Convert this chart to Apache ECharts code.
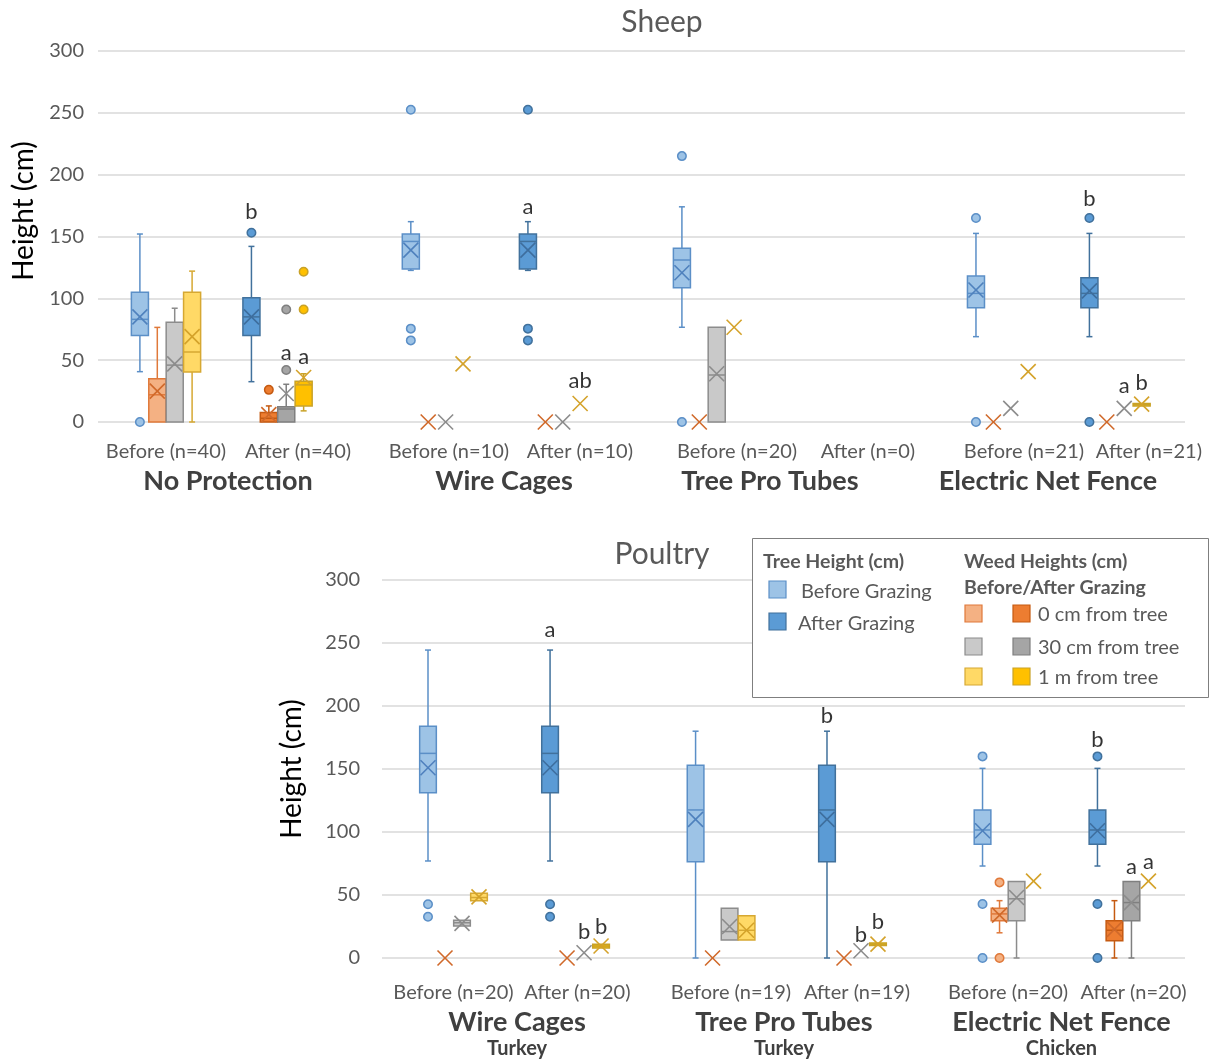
<!DOCTYPE html>
<html><head><meta charset="utf-8">
<script src="https://cdn.jsdelivr.net/npm/echarts@6/dist/echarts.min.js"></script>
<style>html,body{margin:0;padding:0;background:#fff}#c{width:1211px;height:1064px}</style>
</head><body><div id="c"></div><script>
// ---------------- DATA ----------------
const yTicks = [0, 50, 100, 150, 200, 250, 300];
const sheepGroups = ['No Protection', 'Wire Cages', 'Tree Pro Tubes', 'Electric Net Fence'];
const sheepBeforeLabels = ['Before (n=40)', 'Before (n=10)', 'Before (n=20)', 'Before (n=21)'];
const sheepAfterLabels = ['After (n=40)', 'After (n=10)', 'After (n=0)', 'After (n=21)'];
const poultryGroups = ['Wire Cages', 'Tree Pro Tubes', 'Electric Net Fence'];
const poultryAnimals = ['Turkey', 'Turkey', 'Chicken'];
const poultryBeforeLabels = ['Before (n=20)', 'Before (n=19)', 'Before (n=20)'];
const poultryAfterLabels = ['After (n=20)', 'After (n=19)', 'After (n=20)'];
const seriesNames = ['Tree height', '0 cm from tree', '30 cm from tree', '1 m from tree'];

// box stats: [min, q1, median, q3, max, mean]  (null = no data)
const sheepTreeBefore = [[40.7, 70, 83, 105, 152, 85], [122.6, 123.7, 146, 152, 162, 139], [76.6, 108.6, 131, 140.4, 174, 120.7], [69, 92.4, 104, 118, 152.5, 106.7]];
const sheepTreeAfter  = [[32.6, 70, 85, 100.5, 142, 85], [122.6, 123.7, 146, 152, 162, 139], null, [69, 92.4, 104, 116.7, 152.5, 106]];
const sheepW0Before   = [[0, 0, 22, 35, 76.5, 25], [0, 0, 0, 0, 0, 0], [0, 0, 0, 0, 0, 0], [0, 0, 0, 0, 0, 0]];
const sheepW0After    = [[0, 0, 3, 7.6, 13, 6], [0, 0, 0, 0, 0, 0], null, [0, 0, 0, 0, 0, 0]];
const sheepW30Before  = [[0, 0, 46, 80.6, 92, 47], [0, 0, 0, 0, 0, 0], [0, 0, 38, 76.6, 76.6, 39], [11, 11, 11, 11, 11, 11]];
const sheepW30After   = [[0, 0, 10.5, 12.4, 30.5, 23], [0, 0, 0, 0, 0, 0], null, [11, 11, 11, 11, 11, 11]];
const sheepW1Before   = [[0, 40.4, 56.6, 105, 122, 69], [47, 47, 47, 47, 47, 47], [76.6, 76.6, 76.6, 76.6, 76.6, 76.6], [40.7, 40.7, 40.7, 40.7, 40.7, 40.7]];
const sheepW1After    = [[9, 13, 30, 33, 39, 36], [15, 15, 15, 15, 15, 15], null, [13, 13, 14, 15, 15, 14.5]];
// outliers
const sheepTreeBeforeOut = [[0], [252.5, 75.5, 66], [215, 0], [165, 0]];
const sheepTreeAfterOut  = [[153], [252.5, 75.5, 66], [], [165, 0]];
const sheepW0BeforeOut = [[], [], [], []];
const sheepW0AfterOut  = [[26], [], [], []];
const sheepW30BeforeOut = [[], [], [], []];
const sheepW30AfterOut  = [[42, 91], [], [], []];
const sheepW1BeforeOut = [[], [], [], []];
const sheepW1AfterOut  = [[91, 121.5], [], [], []];
// significance letters: [group, phase(0 before/1 after), series, text, height]
const sheepLetters = [[0, 1, 0, 'b', 170], [0, 1, 2, 'a', 56], [0, 1, 3, 'a', 52.5], [1, 1, 0, 'a', 174], [1, 1, 3, 'ab', 33], [3, 1, 0, 'b', 180], [3, 1, 2, 'a', 29], [3, 1, 3, 'b', 31.5]];

const poultryTreeBefore = [[77, 131.2, 162.4, 184, 244.4, 151], [0, 76.4, 117.5, 153, 180, 110], [73, 90.2, 101.6, 117.5, 150.5, 101]];
const poultryTreeAfter  = [[77, 131.2, 162.4, 184, 244.4, 151], [0, 76.4, 117.5, 153, 180, 110], [73, 90.2, 101.6, 117.5, 150.5, 101]];
const poultryW0Before   = [[0, 0, 0, 0, 0, 0], [0, 0, 0, 0, 0, 0], [20, 29.6, 35, 39.4, 45.5, 34]];
const poultryW0After    = [[0, 0, 0, 0, 0, 0], [0, 0, 0, 0, 0, 0], [0, 13.7, 22, 29.6, 45.5, 22.7]];
const poultryW30Before  = [[25.4, 25.4, 28, 30, 30, 27.5], [14.3, 14.3, 21, 39.4, 39.4, 25], [0, 29.6, 47, 60.8, 60.8, 48]];
const poultryW30After   = [[4.2, 4.2, 4.2, 4.2, 4.2, 4.2], [5.8, 5.8, 5.8, 5.8, 5.8, 5.8], [0, 29.6, 44, 60.8, 60.8, 44]];
const poultryW1Before   = [[45.5, 45.5, 48, 51.3, 51.3, 48.5], [14.3, 14.3, 22, 33.6, 33.6, 22], [61, 61, 61, 61, 61, 61]];
const poultryW1After    = [[8, 8, 9.5, 11, 11, 9.5], [10, 10, 11, 12, 12, 11], [61, 61, 61, 61, 61, 61]];
const poultryTreeBeforeOut = [[42.6, 32.8], [], [160, 42.9, 0]];
const poultryTreeAfterOut  = [[42.6, 32.8], [], [160, 42.9, 0]];
const poultryW0BeforeOut = [[], [], [60, 0]];
const poultryW0AfterOut  = [[], [], []];
const poultryW30BeforeOut = [[], [], []];
const poultryW30AfterOut  = [[], [], []];
const poultryW1BeforeOut = [[], [], []];
const poultryW1AfterOut  = [[], [], []];
const poultryLetters = [[0, 1, 0, 'a', 260], [0, 1, 2, 'b', 20.6], [0, 1, 3, 'b', 24.6], [1, 1, 0, 'b', 192], [1, 1, 2, 'b', 18], [1, 1, 3, 'b', 28.6], [2, 1, 0, 'b', 173], [2, 1, 2, 'a', 72], [2, 1, 3, 'a', 76]];

// ---------------- STYLE / LAYOUT ----------------
const FONT = 'Lato';
const PAL = [
  [{fill: '#9DC3E6', stroke: '#5B8FC7', mark: '#4F81BD'}, {fill: '#5B9BD5', stroke: '#41719C', mark: '#3E6E9E'}],
  [{fill: '#F4B183', stroke: '#E0793A', mark: '#D0692A'}, {fill: '#ED7D31', stroke: '#C55A11', mark: '#D0692A'}],
  [{fill: '#C9C9C9', stroke: '#8C8C8C', mark: '#8C8C8C'}, {fill: '#A5A5A5', stroke: '#7F7F7F', mark: '#8C8C8C'}],
  [{fill: '#FFD966', stroke: '#D6A832', mark: '#D4A22A'}, {fill: '#FFC000', stroke: '#C9A227', mark: '#D4A22A'}]
];
const slotOff = [-1.5, -0.5, 0.5, 1.5];
const W = 1211;
// layout: x positions (in slot units) of the before/after clusters, their labels and the group labels
const LAYOUT = [
  {grid: {left: 98, right: 26, top: 51, height: 371}, px0: 166, slot: 17.4,
   clusterPos: [[0, 15.57, 31.15, 48.05], [6.41, 22.3, 37.9, 54.57]],
   subPos: [[0, 16.26, 32.82, 49.31], [7.59, 23.79, 40.34, 56.49]],
   groupPos: [3.56, 19.43, 34.71, 50.69],
   labMargin: 18, grpMargin: 44, yMargin: 14, nameGap: 57, namePad: [0, 0, 0, 51]},
  {grid: {left: 382, right: 26, top: 580, height: 378}, px0: 453.5, slot: 17,
   clusterPos: [[0, 15.74, 32.62], [7.18, 23.47, 39.38]],
   subPos: [[0, 16.32, 32.62], [7.29, 23.74, 40.0]],
   groupPos: [3.74, 19.44, 35.76],
   labMargin: 23, grpMargin: 49, yMargin: 22, nameGap: 76, namePad: [0, 0, 0, 0]}
];

const CHARTS = [
  {groups: sheepGroups, sub: null, before: sheepBeforeLabels, after: sheepAfterLabels,
   stats: [[sheepTreeBefore, sheepTreeAfter], [sheepW0Before, sheepW0After], [sheepW30Before, sheepW30After], [sheepW1Before, sheepW1After]],
   outs: [[sheepTreeBeforeOut, sheepTreeAfterOut], [sheepW0BeforeOut, sheepW0AfterOut], [sheepW30BeforeOut, sheepW30AfterOut], [sheepW1BeforeOut, sheepW1AfterOut]],
   letters: sheepLetters},
  {groups: poultryGroups, sub: poultryAnimals, before: poultryBeforeLabels, after: poultryAfterLabels,
   stats: [[poultryTreeBefore, poultryTreeAfter], [poultryW0Before, poultryW0After], [poultryW30Before, poultryW30After], [poultryW1Before, poultryW1After]],
   outs: [[poultryTreeBeforeOut, poultryTreeAfterOut], [poultryW0BeforeOut, poultryW0AfterOut], [poultryW30BeforeOut, poultryW30AfterOut], [poultryW1BeforeOut, poultryW1AfterOut]],
   letters: poultryLetters}
];

function nearest(vals, texts) {
  return function (v) {
    let bi = 0;
    for (let i = 1; i < vals.length; i++) if (Math.abs(vals[i] - v) < Math.abs(vals[bi] - v)) bi = i;
    return texts[bi];
  };
}

function makeRender(st) {
  return function (params, api) {
    const x = api.value(0);
    const mn = api.value(1), q1 = api.value(2), md = api.value(3), q3 = api.value(4), mx = api.value(5), mean = api.value(6);
    const P = v => api.coord([x, v]);
    const w = api.size([1, 0])[0] * 0.98;
    const c = P(md)[0];
    const ch = [];
    const ls = {stroke: st.stroke, lineWidth: 1.5, fill: null};
    const cap = 3;
    if (mx > q3) {
      const a = P(q3), b = P(mx);
      ch.push({type: 'line', shape: {x1: c, y1: a[1], x2: c, y2: b[1]}, style: ls});
      ch.push({type: 'line', shape: {x1: c - cap, y1: b[1], x2: c + cap, y2: b[1]}, style: ls});
    }
    if (mn < q1) {
      const a = P(q1), b = P(mn);
      ch.push({type: 'line', shape: {x1: c, y1: a[1], x2: c, y2: b[1]}, style: ls});
      ch.push({type: 'line', shape: {x1: c - cap, y1: b[1], x2: c + cap, y2: b[1]}, style: ls});
    }
    if (q3 > q1) {
      const a = P(q3), b = P(q1), m = P(md);
      ch.push({type: 'rect', shape: {x: c - w / 2, y: a[1], width: w, height: b[1] - a[1]}, style: {fill: st.fill, stroke: st.stroke, lineWidth: 1.5}});
      ch.push({type: 'line', shape: {x1: c - w / 2, y1: m[1], x2: c + w / 2, y2: m[1]}, style: ls});
    }
    const mp = P(mean);
    const h = 7.5;
    const xs = {stroke: st.mark, lineWidth: 1.6, fill: null};
    ch.push({type: 'line', shape: {x1: c - h, y1: mp[1] - h, x2: c + h, y2: mp[1] + h}, style: xs});
    ch.push({type: 'line', shape: {x1: c - h, y1: mp[1] + h, x2: c + h, y2: mp[1] - h}, style: xs});
    return {type: 'group', children: ch};
  };
}

const grids = [], xAxes = [], yAxes = [], series = [];
CHARTS.forEach((C, ci) => {
  const L = LAYOUT[ci];
  grids.push(L.grid);
  const xmin = (L.grid.left - L.px0) / L.slot;
  const xmax = (W - L.grid.right - L.px0) / L.slot;
  const cx = (g, p) => L.clusterPos[p][g];
  const subPos = [], subTxt = [];
  C.groups.forEach((_, g) => {
    subPos.push(L.subPos[0][g]); subTxt.push(C.before[g]);
    subPos.push(L.subPos[1][g]); subTxt.push(C.after[g]);
  });
  const grpPos = L.groupPos.slice();
  const grpTxt = C.groups.map((name, g) => C.sub ? '{g|' + name + '}\n{s|' + C.sub[g] + '}' : '{g|' + name + '}');
  const baseX = {gridIndex: ci, type: 'value', position: 'bottom', min: xmin, max: xmax,
    axisLine: {show: false}, axisTick: {show: false}, splitLine: {show: false}};
  xAxes.push(Object.assign({}, baseX, {axisLabel: {customValues: subPos, formatter: nearest(subPos, subTxt), color: '#595959',
    fontSize: 20, fontFamily: FONT, margin: L.labMargin, lineHeight: 24}}));
  xAxes.push(Object.assign({}, baseX, {axisLabel: {customValues: grpPos, formatter: nearest(grpPos, grpTxt), margin: L.grpMargin,
    rich: {g: {fontSize: 27, fontWeight: 'bold', color: '#404040', fontFamily: FONT, lineHeight: 30},
           s: {fontSize: 20, fontWeight: 'bold', color: '#404040', fontFamily: FONT, lineHeight: 24}}}}));
  yAxes.push({gridIndex: ci, type: 'value', min: yTicks[0], max: yTicks[yTicks.length - 1], interval: yTicks[1] - yTicks[0],
    axisLine: {show: false}, axisTick: {show: false},
    splitLine: {lineStyle: {color: '#D9D9D9', width: 1.5}},
    axisLabel: {color: '#595959', fontSize: 20, fontFamily: FONT, margin: L.yMargin},
    name: 'Height (cm)', nameLocation: 'middle', nameGap: L.nameGap, nameRotate: 90,
    nameTextStyle: {fontSize: 28, color: '#000', fontFamily: FONT, padding: L.namePad}});
  const xi = ci * 2, yi = ci;
  C.stats.forEach((phases, t) => {
    phases.forEach((arr, p) => {
      const st = PAL[t][p];
      const data = [];
      arr.forEach((s, g) => { if (s) data.push([cx(g, p) + slotOff[t]].concat(s)); });
      series.push({type: 'custom', name: seriesNames[t], xAxisIndex: xi, yAxisIndex: yi, renderItem: makeRender(st),
        encode: {x: 0, y: [1, 2, 3, 4, 5, 6]}, data: data, silent: true, z: 3});
      const od = [];
      C.outs[t][p].forEach((list, g) => list.forEach(v => od.push([cx(g, p) + slotOff[t], v])));
      if (od.length) series.push({type: 'scatter', xAxisIndex: xi, yAxisIndex: yi, symbol: 'circle', symbolSize: 8.5, z: 4,
        itemStyle: {color: st.fill, borderColor: st.stroke, borderWidth: 1.5, opacity: 1}, data: od, silent: true});
    });
  });
  series.push({type: 'scatter', xAxisIndex: xi, yAxisIndex: yi, symbolSize: 0, z: 5, silent: true,
    data: C.letters.map(l => ({value: [cx(l[0], l[1]) + slotOff[l[2]], l[4]], name: l[3]})),
    label: {show: true, position: 'inside', formatter: '{b}', fontSize: 22, color: '#000', fontFamily: FONT}});
});

// legend (drawn as graphic box)
const legendItems = [];
function txt(x, y, t, size, bold, align) {
  return {type: 'text', x: x, y: y, z: 101, style: {text: t, fontSize: size, fontFamily: FONT, fontWeight: bold ? 'bold' : 'normal',
    fill: '#595959', align: align || 'left', verticalAlign: 'middle'}};
}
function sq(x, y, st) {
  return {type: 'rect', z: 101, shape: {x: x, y: y, width: 17, height: 17}, style: {fill: st.fill, stroke: st.stroke, lineWidth: 1.2}};
}
legendItems.push({type: 'rect', z: 100, shape: {x: 752.5, y: 538.5, width: 456, height: 159}, style: {fill: '#fff', stroke: '#7F7F7F', lineWidth: 1}});
legendItems.push(txt(763, 562, 'Tree Height (cm)', 19.5, true));
legendItems.push(sq(769, 581, PAL[0][0])); legendItems.push(txt(801, 592, 'Before Grazing', 20));
legendItems.push(sq(769, 613, PAL[0][1])); legendItems.push(txt(798, 624, 'After Grazing', 20));
legendItems.push(txt(964, 562, 'Weed Heights (cm)', 19.5, true));
legendItems.push(txt(964, 588, 'Before/After Grazing', 19.5, true));
const legRows = [[605, '0 cm from tree', 1], [638, '30 cm from tree', 2], [668, '1 m from tree', 3]];
legRows.forEach(r => {
  legendItems.push(sq(965, r[0], PAL[r[2]][0]));
  legendItems.push(sq(1013, r[0], PAL[r[2]][1]));
  legendItems.push(txt(1038, r[0] + 10, r[1], 20));
});

const option = {
  animation: false,
  backgroundColor: '#fff',
  textStyle: {fontFamily: FONT},
  grid: grids,
  xAxis: xAxes,
  yAxis: yAxes,
  series: series,
  graphic: [
    {type: 'text', x: 662, y: 22, style: {text: 'Sheep', fontSize: 30, fontFamily: FONT, fill: '#595959', align: 'center', verticalAlign: 'middle'}},
    {type: 'text', x: 662, y: 554, style: {text: 'Poultry', fontSize: 30, fontFamily: FONT, fill: '#595959', align: 'center', verticalAlign: 'middle'}}
  ].concat(legendItems)
};
const chart = echarts.init(document.getElementById('c'), null, {renderer: 'canvas'});
chart.setOption(option);
</script></body></html>
